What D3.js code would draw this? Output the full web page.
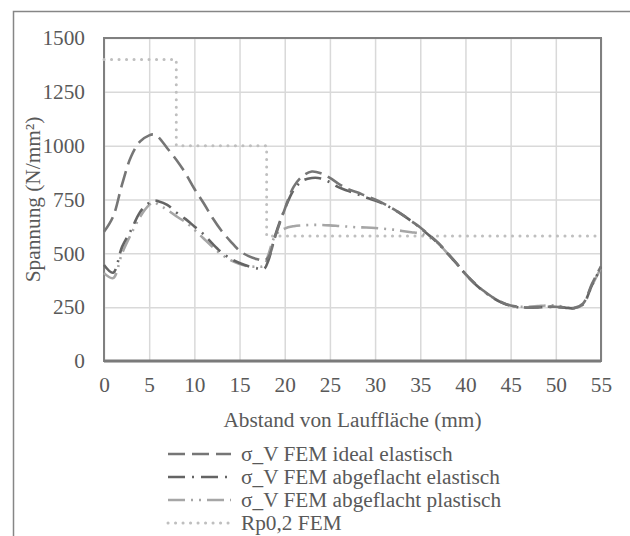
<!DOCTYPE html>
<html>
<head>
<meta charset="utf-8">
<script src="https://cdn.jsdelivr.net/npm/d3@7/dist/d3.min.js"></script>
</head>
<body style="margin:0; background:#fff; font-family:'Liberation Serif', serif">
<div id="vis"></div>
<script>

const FRAME_WIDTH = 630;
const FRAME_HEIGHT = 536;
const MARGINS = {left: 104, right: 29, top: 38, bottom: 175};

const VIS_WIDTH = FRAME_WIDTH - MARGINS.left - MARGINS.right;
const VIS_HEIGHT = FRAME_HEIGHT - MARGINS.top - MARGINS.bottom;

const FONT = "Liberation Serif, Tinos, Times New Roman, serif";
const FONT_SIZE = 21.3;
const TEXT_COLOR = "#595959";

// data
const X_VALUES = [0, 1, 2, 3, 4, 5, 5.5, 6, 7, 8, 9, 10, 11, 12, 13, 14, 15, 16, 17, 17.7, 18.2,
                  19, 20, 21, 22, 23, 24, 25, 26, 27, 28, 29, 30, 31, 32, 33, 34, 35, 36, 37,
                  38, 39, 40, 41, 42, 43, 44, 45, 46, 47, 48, 49, 50, 51, 52, 53, 54, 55];

const IDEAL_ELASTISCH = [600, 670, 820, 950, 1020, 1048, 1052, 1040, 988, 935, 873, 800, 735, 665, 605, 556, 512, 487, 472, 466, 482,
                         585, 705, 810, 860, 880, 872, 850, 822, 798, 784, 766, 750, 730, 706, 680, 650, 620, 585, 548,
                         502, 455, 405, 362, 326, 296, 273, 258, 251, 248, 250, 252, 252, 249, 246, 266, 358, 440];

const ABGEFLACHT_ELASTISCH = [446, 410, 530, 608, 692, 735, 745, 742, 725, 690, 660, 625, 590, 545, 505, 475, 455, 440, 430, 427, 468,
                              590, 705, 795, 838, 850, 848, 830, 806, 790, 775, 760, 745, 728, 705, 680, 650, 618, 583, 545,
                              500, 453, 404, 360, 324, 294, 271, 256, 249, 247, 249, 251, 251, 248, 245, 263, 352, 436];

const ABGEFLACHT_PLASTISCH = [408, 385, 500, 590, 670, 725, 738, 727, 702, 672, 645, 610, 570, 530, 495, 468, 450, 440, 438, 442, 495,
                              585, 615, 626, 630, 632, 632, 630, 627, 624, 621, 620, 618, 614, 610, 604, 598, 592, 575, 545,
                              500, 452, 402, 360, 324, 295, 272, 257, 252, 252, 255, 258, 258, 250, 246, 262, 350, 432];

const RP_X = [0, 8, 8, 18, 18, 55];
const RP_VALUES = [1400, 1400, 1000, 1000, 580, 580];

const X_TICKS = [0, 5, 10, 15, 20, 25, 30, 35, 40, 45, 50, 55];
const Y_TICKS = [0, 250, 500, 750, 1000, 1250, 1500];

const SERIES_NAMES = ["σ_V FEM ideal elastisch", "σ_V FEM abgeflacht elastisch",
                      "σ_V FEM abgeflacht plastisch", "Rp0,2 FEM"];

const STYLES = [
  {color: "#767676", dash: "17 7", cap: "butt", width: 2.6},
  {color: "#646464", dash: "17 7 2 7", cap: "butt", width: 2.6},
  {color: "#a6a6a6", dash: "17 6 2 6 2 6", cap: "butt", width: 2.6},
  {color: "#bfbfbf", dash: "0.1 7.4", cap: "round", width: 3}
];

const FRAME = d3.select("#vis")
                .append("svg")
                  .attr("width", FRAME_WIDTH)
                  .attr("height", FRAME_HEIGHT)
                  .attr("font-family", FONT);

// outer chart border (runs off the right and bottom edges)
FRAME.append("rect")
      .attr("x", 13.5)
      .attr("y", 11.5)
      .attr("width", 640)
      .attr("height", 560)
      .attr("fill", "none")
      .attr("stroke", "#868686")
      .attr("stroke-width", 1.5);

const X_SCALE = d3.scaleLinear()
                  .domain([0, 55])
                  .range([0, VIS_WIDTH]);

const Y_SCALE = d3.scaleLinear()
                  .domain([0, 1500])
                  .range([VIS_HEIGHT, 0]);

const PLOT = FRAME.append("g")
                  .attr("transform", "translate(" + MARGINS.left + "," + MARGINS.top + ")");

// gridlines
PLOT.append("g")
    .call(d3.axisLeft(Y_SCALE).tickValues(Y_TICKS).tickSize(-VIS_WIDTH).tickFormat(""))
    .call(g => g.select(".domain").remove())
    .selectAll("line")
      .attr("stroke", "#d9d9d9")
      .attr("stroke-width", 1.5);

PLOT.append("g")
    .attr("transform", "translate(0," + VIS_HEIGHT + ")")
    .call(d3.axisBottom(X_SCALE).tickValues(X_TICKS).tickSize(-VIS_HEIGHT).tickFormat(""))
    .call(g => g.select(".domain").remove())
    .selectAll("line")
      .attr("stroke", "#d9d9d9")
      .attr("stroke-width", 1.5);

// plot border
PLOT.append("rect")
    .attr("width", VIS_WIDTH)
    .attr("height", VIS_HEIGHT)
    .attr("fill", "none")
    .attr("stroke", "#808080")
    .attr("stroke-width", 2);

// series
const line = d3.line()
               .x((d) => { return X_SCALE(d[0]); })
               .y((d) => { return Y_SCALE(d[1]); })
               .curve(d3.curveCatmullRom.alpha(0.5));

const stepLine = d3.line()
                   .x((d) => { return X_SCALE(d[0]); })
                   .y((d) => { return Y_SCALE(d[1]); });

const seriesData = [
  d3.zip(X_VALUES, IDEAL_ELASTISCH),
  d3.zip(X_VALUES, ABGEFLACHT_ELASTISCH),
  d3.zip(X_VALUES, ABGEFLACHT_PLASTISCH),
  d3.zip(RP_X, RP_VALUES)
];

// draw Rp first so the curves sit on top
[3, 2, 1, 0].forEach((i) => {
  PLOT.append("path")
      .datum(seriesData[i])
      .attr("d", i === 3 ? stepLine : line)
      .attr("fill", "none")
      .attr("stroke", STYLES[i].color)
      .attr("stroke-width", STYLES[i].width)
      .attr("stroke-dasharray", STYLES[i].dash)
      .attr("stroke-linecap", STYLES[i].cap);
});

// bottom axis line
PLOT.append("line")
    .attr("x1", 0)
    .attr("x2", VIS_WIDTH)
    .attr("y1", VIS_HEIGHT)
    .attr("y2", VIS_HEIGHT)
    .attr("stroke", "#7a7a7a")
    .attr("stroke-width", 3);

// tick labels
const xAxis = PLOT.append("g")
                  .attr("transform", "translate(0," + VIS_HEIGHT + ")")
                  .call(d3.axisBottom(X_SCALE).tickValues(X_TICKS).tickSize(0).tickPadding(16)
                          .tickFormat(d3.format("d")));
xAxis.select(".domain").remove();
xAxis.attr("font-family", FONT).attr("font-size", FONT_SIZE);
xAxis.selectAll("text")
     .attr("fill", TEXT_COLOR);

const yAxis = PLOT.append("g")
                  .call(d3.axisLeft(Y_SCALE).tickValues(Y_TICKS).tickSize(0).tickPadding(19)
                          .tickFormat(d3.format("d")));
yAxis.select(".domain").remove();
yAxis.attr("font-family", FONT).attr("font-size", FONT_SIZE);
yAxis.selectAll("text")
     .attr("fill", TEXT_COLOR);

// axis titles
FRAME.append("text")
      .attr("x", MARGINS.left + VIS_WIDTH / 2)
      .attr("y", 427)
      .attr("text-anchor", "middle")
      .attr("font-size", FONT_SIZE)
      .attr("fill", TEXT_COLOR)
      .text("Abstand von Lauffläche (mm)");

FRAME.append("text")
      .attr("transform", "translate(40," + (MARGINS.top + VIS_HEIGHT / 2) + ") rotate(-90)")
      .attr("text-anchor", "middle")
      .attr("font-size", FONT_SIZE)
      .attr("fill", TEXT_COLOR)
      .text("Spannung (N/mm²)");

// legend
const LEGEND_Y = [454, 477, 500, 523];
SERIES_NAMES.forEach((name, i) => {
  FRAME.append("line")
        .attr("x1", 168)
        .attr("x2", 231)
        .attr("y1", LEGEND_Y[i])
        .attr("y2", LEGEND_Y[i])
        .attr("stroke", STYLES[i].color)
        .attr("stroke-width", STYLES[i].width)
        .attr("stroke-dasharray", STYLES[i].dash)
        .attr("stroke-linecap", STYLES[i].cap);
  FRAME.append("text")
        .attr("x", 241)
        .attr("y", LEGEND_Y[i] + 6.5)
        .attr("font-size", FONT_SIZE)
        .attr("fill", TEXT_COLOR)
        .text(name);
});

</script>
</body>
</html>
